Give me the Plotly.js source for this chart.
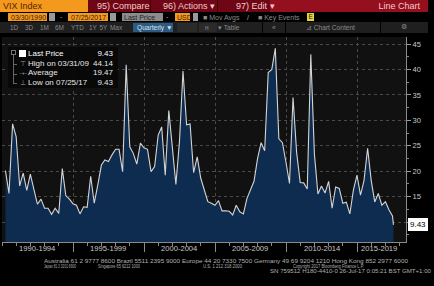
<!DOCTYPE html>
<html>
<head>
<meta charset="utf-8">
<script src="https://cdn.plot.ly/plotly-3.0.1.min.js"></script>
<style>
  html, body { margin:0; padding:0; background:#000; }
  #wrap { position:relative; width:434px; height:286px; overflow:hidden; background:#000; font-family:"Liberation Sans", Arial, sans-serif; }
  #chart { position:absolute; left:0; top:0; width:434px; height:286px; }
  .abs { position:absolute; white-space:nowrap; line-height:1; }
  .box { position:absolute; box-sizing:border-box; }
</style>
</head>
<body>
<div id="wrap">
  <div id="chart"></div>
  <div id="overlay"></div>
</div>
<script>
// ---------------- DATA ----------------
const securityName = "VIX Index";
const startDateLabel = "03/30/1990";
const endDateLabel = "07/25/2017";
// Quarterly VIX last price, Q1 1990 ... Q2 2017, then last value 07/25/2017
const vixValues = [
  20.1, 15.6, 29.3, 26.8,   // 1990
  17.1, 19.6, 16.2, 19.4,   // 1991
  16.4, 13.5, 14.5, 12.7,   // 1992
  12.7, 11.5, 12.7, 11.7,   // 1993
  20.5, 15.2, 14.5, 13.6,   // 1994
  13.3, 11.6, 13.0, 12.9,   // 1995
  19.0, 13.7, 17.3, 21.2,   // 1996
  22.2, 21.9, 23.2, 24.3,   // 1997
  24.3, 19.9, 40.9, 24.8,   // 1998
  23.5, 21.4, 25.5, 24.6,   // 1999
  24.3, 19.9, 20.9, 27.1,   // 2000
  28.7, 19.2, 31.9, 23.8,   // 2001
  17.4, 25.7, 39.7, 29.1,   // 2002
  29.3, 19.7, 22.8, 18.6,   // 2003
  16.3, 14.0, 13.7, 13.3,   // 2004
  14.2, 12.2, 12.2, 12.1,   // 2005
  11.4, 13.3, 12.0, 11.6,   // 2006
  14.6, 16.2, 18.0, 22.5,   // 2007
  25.6, 24.0, 39.4, 40.0,   // 2008
  44.14, 26.35, 25.6, 21.7, // 2009
  17.6, 34.5, 23.7, 17.75,  // 2010
  17.7, 16.5, 42.96, 23.4,  // 2011
  15.5, 17.1, 15.7, 18.0,   // 2012
  12.7, 16.9, 16.6, 13.7,   // 2013
  13.9, 11.6, 16.3, 19.2,   // 2014
  15.3, 18.2, 24.5, 18.2,   // 2015
  13.95, 15.6, 13.3, 14.0,  // 2016
  12.4, 11.2, 9.43          // 2017
];
const quarterEnds = ["-03-31", "-06-30", "-09-30", "-12-31"];
const lastDate = "2017-07-25";
const periodLabels = ["1990-1994", "1995-1999", "2000-2004", "2005-2009", "2010-2014", "2015-2019"];
const periodLabelDates = ["1992-07-01", "1997-07-01", "2002-07-01", "2007-07-01", "2012-07-01", "2016-07-20"];
const periodBounds = ["1995-01-01", "2000-01-01", "2005-01-01", "2010-01-01", "2015-01-01"];
const yTickVals = [10, 15, 20, 25, 30, 35, 40, 45];
const yTickText = ["", "15", "20", "25", "30", "35", "40", "45"];
const legendRows = [
  {label: "Last Price", value: "9.43"},
  {label: "High on 03/31/09", value: "44.14"},
  {label: "Average", value: "19.47"},
  {label: "Low on 07/25/17", value: "9.43"}
];
const lastPriceLabel = "9.43";

// x dates: quarter ends, last point is the partial quarter
const dates = [];
for (let y = 1990; dates.length < vixValues.length - 1; y++) {
  for (let q = 0; q < 4 && dates.length < vixValues.length - 1; q++) {
    dates.push(y + quarterEnds[q]);
  }
}
dates[0] = "1990-03-30";
dates.push(lastDate);

// ---------------- LAYOUT (pixel helpers) ----------------
const W = 434, H = 286;
const L = 2, R = 406, T = 37, B = 242;
const py = p => (B - p) / (B - T);
const px = p => (p - L) / (R - L);
const FONT = "Liberation Sans, Arial, sans-serif";

const trace = {
  x: dates, y: vixValues, type: "scatter", mode: "lines",
  line: {color: "#d4d4d4", width: 1.1, shape: "linear"},
  fill: "tozeroy", fillcolor: "#0e2c50",
  hoverinfo: "x+y"
};

const annotations = periodLabels.map((t, i) => ({
  x: periodLabelDates[i], xref: "x", y: py(248), yref: "paper",
  text: t, showarrow: false, xanchor: "center", yanchor: "middle",
  font: {family: FONT, size: 7.6, color: "#c8c8c8"}
}));
annotations.push({
  x: px(408), xref: "paper", y: 9.43, yref: "y", text: lastPriceLabel,
  showarrow: false, xanchor: "left", yanchor: "middle",
  bgcolor: "#ffffff", bordercolor: "#ffffff", borderpad: 1,
  font: {family: FONT, size: 8, color: "#000"}
});

const layout = {
  width: W, height: H,
  margin: {l: L, r: W - R, t: T, b: H - B, pad: 0},
  paper_bgcolor: "#000", plot_bgcolor: "#111111",
  showlegend: false,
  font: {family: FONT, color: "#c8c8c8"},
  xaxis: {
    type: "date", range: ["1990-01-01", "2018-06-13"],
    tickmode: "array", tickvals: periodBounds, showticklabels: false,
    ticks: "outside", ticklen: 9, tickcolor: "#8a8a8a", tickwidth: 1,
    showgrid: true, gridcolor: "#4a4a4a", griddash: "dot", gridwidth: 1,
    showline: true, linecolor: "#8a8a8a", linewidth: 1,
    minor: {dtick: "M12", tick0: "1990-01-01", ticks: "outside", ticklen: 3, tickcolor: "#8a8a8a", showgrid: false},
    zeroline: false, fixedrange: true
  },
  yaxis: {
    side: "right", range: [6.07, 46.38],
    tickmode: "array", tickvals: yTickVals, ticktext: yTickText,
    ticks: "outside", ticklen: 4, tickcolor: "#9a9a9a",
    tickfont: {family: FONT, size: 7.6, color: "#c8c8c8"},
    showgrid: true, gridcolor: "#4a4a4a", griddash: "dot", gridwidth: 1,
    showline: true, linecolor: "#8a8a8a", linewidth: 1,
    minor: {tick0: 0, dtick: 2.5, ticks: "outside", ticklen: 2, tickcolor: "#8a8a8a", showgrid: false},
    zeroline: false, fixedrange: true
  },
  annotations: annotations
};

Plotly.newPlot("chart", [trace], layout, {staticPlot: true, displayModeBar: false});

// ---------------- Bloomberg terminal chrome (HTML overlay) ----------------
const ov = document.getElementById("overlay");
function box(x, y, w, h, bg, extra) {
  const d = document.createElement("div");
  d.className = "box";
  d.style.cssText = `left:${x}px;top:${y}px;width:${w}px;height:${h}px;background:${bg};` + (extra || "");
  ov.appendChild(d); return d;
}
function txt(x, y, s, size, color, extra) {
  const d = document.createElement("div");
  d.className = "abs";
  d.textContent = s;
  d.style.cssText = `left:${x}px;top:${y}px;font-size:${size}px;color:${color};` + (extra || "");
  ov.appendChild(d); return d;
}
function txtR(xr, y, s, size, color, extra) {
  const d = txt(0, y, s, size, color, extra);
  d.style.left = ""; d.style.right = (W - xr) + "px";
  return d;
}
function txtFit(x0, x1, y, s, size, color) {
  const d = txt(x0, y, s, size, color, "transform-origin:0 0;");
  const w = d.getBoundingClientRect().width;
  if (w > 0) d.style.transform = `scaleX(${(x1 - x0) / w})`;
  return d;
}

// Row 1
box(0, 0, 434, 12, "#000");
box(0, 0, 88, 12, "#f39a1e");
txt(3, 1.5, securityName, 9, "#5a1c00");
box(88, 0, 62, 12, "#6e0616");
box(150, 0, 67, 12, "#6e0616", "border-left:1px solid #3a0008;");
box(217, 0, 53, 12, "#6e0616", "border-left:1px solid #3a0008;");
box(270, 0, 158, 12, "#95101f");
txt(97, 1.5, "95) Compare", 9, "#f4c9c9");
txt(163, 1.5, "96) Actions ▾", 9, "#f4c9c9");
txt(236, 1.5, "97) Edit ▾", 9, "#f4c9c9");
txtR(420, 1.5, "Line Chart", 9, "#f4c9c9");

// Row 2
box(8, 13, 39, 8, "#f39a1e");
txt(11, 13.5, startDateLabel, 7, "#4a1800");
box(49, 13, 6, 8, "#9a9a9a");
txt(60, 13, "-", 7, "#aaa");
box(68, 13, 40, 8, "#f39a1e");
txt(71, 13.5, endDateLabel, 7, "#4a1800");
box(110, 13, 6, 8, "#9a9a9a");
box(122, 13, 41, 8, "#8c8c8c");
txt(124, 13.5, "Last Price", 7, "#222");
txt(166, 13, "-", 7, "#aaa");
box(175, 13, 15, 8, "#f39a1e");
txt(177, 13.5, "USD", 7, "#4a1800");
box(193, 13, 5, 8, "#9a9a9a");
txt(203, 13.5, "■ Mov Avgs", 7, "#8a8a8a");
txt(247, 13.5, "/", 7, "#aaa");
txt(258, 13.5, "■ Key Events", 7, "#8a8a8a");
box(307, 13, 7, 8, "#e6d23a");
txt(308.5, 13.8, "E", 6.5, "#222");

// Row 3
box(0, 22, 428, 11, "#1f1f1f");
const periods = [["1D", 10], ["3D", 25], ["1M", 40], ["6M", 55], ["YTD", 71], ["1Y", 89], ["5Y", 99.5], ["Max", 110]];
periods.forEach(p => txt(p[1], 24.8, p[0], 6.4, "#8a8a8a"));
box(133, 23, 40, 9, "#2d5a80");
txt(137, 24.8, "Quarterly ▼", 6.6, "#d8e4ef");
box(177, 23, 20, 9, "#2a2a2a");
box(199, 23, 18, 9, "#2a2a2a");
txt(205, 24.8, "н", 6.6, "#8a8a8a");
txt(218, 24.8, "▾  Table", 6.6, "#8a8a8a");
box(262, 22, 1, 11, "#000");
txt(272, 24.8, "«", 6.6, "#8a8a8a");
box(285, 22, 1, 11, "#000");
txt(306, 24.8, "⊿ Chart Content", 6.6, "#8a8a8a");
box(380, 22, 1, 11, "#000");
txt(401, 24.3, "⚙", 6.6, "#8a8a8a");

// Legend box
box(8, 47, 110, 41, "rgba(8,8,8,0.9)");
box(13, 52, 1, 31, "#666");
[63.5, 73.5, 83].forEach(yy => box(13, yy, 4, 1, "#666"));
box(11, 50, 5, 5, "#000", "border:1px solid #777;");
box(19, 50, 7, 7, "#ffffff");
txt(20, 60, "⊤", 7, "#999");
txt(19.5, 69.5, "-+-", 6, "#999");
txt(20, 79, "⊥", 7, "#999");
const rowY = [49.5, 59.5, 69.2, 78.7];
legendRows.forEach((r, i) => {
  const c = i === 0 ? "#ffffff" : "#e6e6e6";
  txt(28, rowY[i], r.label, 8, c);
  txtR(113, rowY[i], r.value, 8, c);
});

// Footer
const f = "#b0b0b0";
txtFit(44, 408, 259.8, "Australia 61 2 9777 8600 Brazil 5511 2395 9000 Europe 44 20 7330 7500 Germany 49 69 9204 1210 Hong Kong 852 2977 6000", 4.8, f);
txtFit(44, 76, 264.8, "Japan 81 3 3201 8900", 4.8, f);
txtFit(98, 140, 264.8, "Singapore 65 6212 1000", 4.8, f);
txtFit(203, 242, 264.8, "U.S. 1 212 318 2000", 4.8, f);
txtFit(293, 364, 264.8, "Copyright 2017 Bloomberg Finance L.P.", 4.8, f);
txtFit(270, 431, 269.8, "SN 759512 H180-4410-0 26-Jul-17  0:05:21 BST  GMT+1:00", 4.8, f);
</script>
</body>
</html>
